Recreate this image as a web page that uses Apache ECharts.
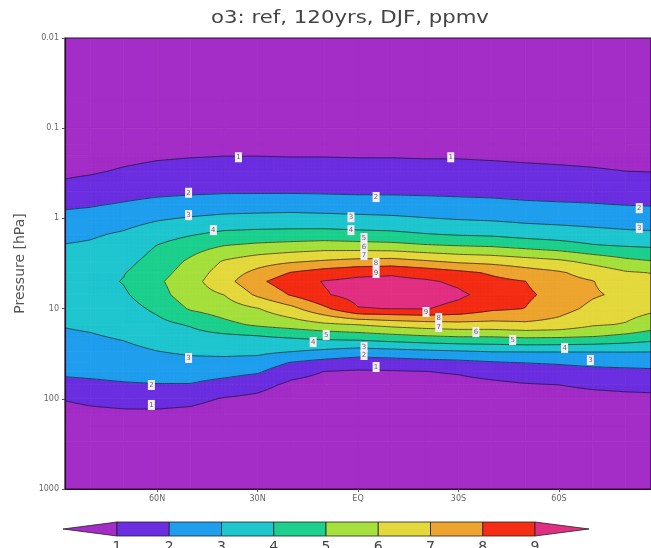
<!DOCTYPE html>
<html><head><meta charset="utf-8">
<script src="https://cdn.jsdelivr.net/npm/echarts@6/dist/echarts.min.js"></script>
<style>html,body{margin:0;padding:0;background:#fff}#c{width:651px;height:548px}</style>
</head><body><div id="c"></div>
<script>
// ---- data (ozone, ppmv, DJF) ----
const latitudes = [87.5, 80, 70, 60, 50, 40, 30, 20, 10, 0, -10, -20, -30, -40, -50, -60, -70, -80, -87.5];
const pressures = [0.01, 0.05, 0.1, 0.15, 0.2, 0.3, 0.4, 0.5, 0.7, 1, 1.5, 2, 3, 4, 5, 7, 10, 15, 20, 30, 40, 50, 70, 100, 150, 200, 300, 1000];
// one column per latitude, values from top (0.01 hPa) to bottom (1000 hPa)
const o3_87N = [0.2,0.2,0.2,0.28,0.52,0.82,1.08,1.37,1.83,2.27,2.77,3.04,3.18,3.29,3.37,3.31,3.19,3.05,2.88,2.56,2.34,2.16,1.75,1.05,0.63,0.35,0.2,0.2];
const o3_80N = [0.2,0.2,0.2,0.36,0.6,0.9,1.2,1.47,1.91,2.35,2.88,3.12,3.35,3.52,3.65,3.64,3.40,3.14,2.94,2.61,2.38,2.19,1.83,1.22,0.73,0.45,0.2,0.2];
const o3_70N = [0.2,0.2,0.2,0.52,0.76,1.09,1.41,1.66,2.08,2.6,3.12,3.37,3.71,3.95,4.05,3.87,3.61,3.32,3.11,2.76,2.49,2.27,1.92,1.33,0.81,0.53,0.2,0.2];
const o3_60N = [0.2,0.2,0.2,0.64,0.88,1.24,1.55,1.78,2.27,2.89,3.56,4.02,4.37,4.62,4.82,4.61,4.19,3.73,3.42,2.98,2.64,2.37,1.96,1.35,0.81,0.53,0.2,0.2];
const o3_50N = [0.2,0.2,0.2,0.7,0.94,1.32,1.62,1.84,2.4,3.08,3.92,4.54,5.18,5.44,5.65,5.57,5.11,4.09,3.67,3.14,2.75,2.44,1.95,1.25,0.73,0.45,0.2,0.2];
const o3_40N = [0.2,0.2,0.2,0.74,0.98,1.37,1.67,1.89,2.5,3.23,4.23,4.99,6.09,6.46,6.63,6.01,5.49,4.73,3.84,3.21,2.73,2.33,1.65,0.93,0.53,0.25,0.2,0.2];
const o3_30N = [0.2,0.2,0.2,0.74,0.98,1.37,1.67,1.89,2.53,3.29,4.32,5.2,6.57,7.27,7.77,7.18,5.96,5.17,4.0,3.21,2.61,2.12,1.31,0.78,0.38,0.2,0.2,0.2];
const o3_20N = [0.2,0.2,0.2,0.72,0.96,1.35,1.66,1.89,2.56,3.33,4.35,5.35,6.88,8.04,8.6,8.08,6.71,5.48,4.17,3.01,1.93,1.35,0.8,0.45,0.2,0.2,0.2,0.2];
const o3_10N = [0.2,0.2,0.2,0.72,0.96,1.34,1.64,1.87,2.5,3.29,4.38,5.48,7.12,8.48,9.05,8.92,7.8,5.83,4.4,2.78,1.62,0.98,0.65,0.3,0.2,0.2,0.2,0.2];
const o3_EQ  = [0.2,0.2,0.2,0.7,0.94,1.32,1.62,1.84,2.44,3.23,4.29,5.4,7.32,8.77,9.22,9.36,8.95,6.04,4.57,2.53,1.42,0.9,0.58,0.23,0.2,0.2,0.2,0.2];
const o3_10S = [0.2,0.2,0.2,0.7,0.94,1.32,1.62,1.84,2.42,3.16,4.23,5.31,7.4,8.87,9.25,9.43,9.02,6.33,4.8,2.65,1.5,0.93,0.6,0.25,0.2,0.2,0.2,0.2];
const o3_20S = [0.2,0.2,0.2,0.68,0.92,1.29,1.59,1.82,2.35,3.04,4.05,5.1,7.12,8.61,9.13,9.4,9.05,6.54,5.0,2.78,1.62,0.98,0.65,0.3,0.2,0.2,0.2,0.2];
const o3_30S = [0.2,0.2,0.2,0.68,0.92,1.28,1.58,1.79,2.29,2.93,3.91,4.98,6.83,8.25,8.84,9.15,8.75,6.66,5.14,2.9,1.71,1.09,0.7,0.35,0.2,0.2,0.2,0.2];
const o3_40S = [0.2,0.2,0.2,0.64,0.88,1.24,1.54,1.76,2.23,2.85,3.83,4.88,6.7,7.87,8.25,8.7,8.19,6.66,5.14,3.02,1.88,1.33,0.8,0.45,0.2,0.2,0.2,0.2];
const o3_50S = [0.2,0.2,0.2,0.6,0.84,1.18,1.49,1.71,2.13,2.72,3.63,4.64,6.45,7.45,8.01,8.17,7.98,6.79,5.29,3.03,2.0,1.54,0.93,0.58,0.2,0.2,0.2,0.2];
const o3_60S = [0.2,0.2,0.2,0.56,0.8,1.14,1.45,1.68,2.08,2.65,3.5,4.42,6.2,7.12,7.34,7.67,7.36,6.66,5.25,3.03,2.08,1.63,1.0,0.65,0.26,0.2,0.2,0.2];
const o3_70S = [0.2,0.2,0.2,0.52,0.76,1.08,1.4,1.64,2.04,2.58,3.34,4.08,5.73,6.62,7.04,7.11,6.77,6.13,5.11,3.03,2.21,1.74,1.14,0.73,0.33,0.2,0.2,0.2];
const o3_80S = [0.2,0.2,0.2,0.46,0.7,1.0,1.33,1.57,1.97,2.5,3.22,3.93,5.26,6.11,6.39,6.8,6.42,5.93,4.82,3.03,2.27,1.79,1.22,0.78,0.38,0.2,0.2,0.2];
const o3_87S = [0.2,0.2,0.2,0.44,0.68,0.98,1.3,1.54,1.94,2.46,3.16,3.86,5.05,5.98,6.19,6.47,6.21,5.48,4.55,3.02,2.31,1.83,1.26,0.8,0.41,0.2,0.2,0.2];

const contourLevels = [1, 2, 3, 4, 5, 6, 7, 8, 9];
const bandColors = ['#A42CC7','#6B2EE0','#1F9EEE','#1FC6D0','#1DD08E','#A5E03C','#E4D93C','#EDA52F','#F42D14','#E22F82'];
const xTickValues = [60, 30, 0, -30, -60];
const xTickLabels = ['60N', '30N', 'EQ', '30S', '60S'];
const yTickValues = [0.01, 0.1, 1, 10, 100, 1000];
const yTickLabels = ['0.01', '0.1', '1', '10', '100', '1000'];
// contour labels seen on the reference: latitude, pressure, level
const labelLat = [35.7,-27.7,50.6,-5.4,50.6,2.1,43.2,2.1,-1.8,-1.8,-1.8,-5.4,-5.4,-20.3,-24.1,-24.1,-35.2,-46.2,9.5,13.4,-1.8,-1.8,-5.4,50.6,61.7,61.7,-61.7,-69.4,-84,-84];
const labelP   = [0.21,0.21,0.52,0.58,0.92,0.97,1.35,1.35,1.65,2.08,2.55,3.12,4.03,10.9,12.7,16,18.2,22.3,19.6,23.5,26.7,32.7,44.4,35.3,70.3,117,27.3,37.2,0.77,1.28];
const labelVal = [1,1,2,2,3,3,4,4,5,6,7,8,9,9,8,7,6,5,5,4,3,2,1,3,2,1,4,3,2,3];

// ---- build ----
const grid = [o3_87N,o3_80N,o3_70N,o3_60N,o3_50N,o3_40N,o3_30N,o3_20N,o3_10N,o3_EQ,o3_10S,o3_20S,o3_30S,o3_40S,o3_50S,o3_60S,o3_70S,o3_80S,o3_87S];
const cells = [];
for (let i = 0; i < latitudes.length - 1; i++)
  for (let j = 0; j < pressures.length - 1; j++)
    cells.push([latitudes[i], pressures[j], i, j]);

function band(v) { if (v < contourLevels[0]) return 0; let k = 0; while (k < contourLevels.length && v >= contourLevels[k]) k++; return k; }
function clip(poly, level, keepAbove) {
  const out = [];
  for (let k = 0; k < poly.length; k++) {
    const a = poly[k], b = poly[(k + 1) % poly.length];
    const ain = keepAbove ? a[2] >= level : a[2] < level;
    const bin = keepAbove ? b[2] >= level : b[2] < level;
    if (ain) out.push(a);
    if (ain !== bin) {
      const t = (level - a[2]) / (b[2] - a[2]);
      out.push([a[0] + t * (b[0] - a[0]), a[1] + t * (b[1] - a[1]), level]);
    }
  }
  return out;
}
const f = n => n.toFixed(2);

function renderCell(params, api) {
  const i = api.value(2), j = api.value(3);
  const a = api.coord([latitudes[i], pressures[j]]);
  const b = api.coord([latitudes[i + 1], pressures[j + 1]]);
  const v00 = grid[i][j], v10 = grid[i + 1][j], v01 = grid[i][j + 1], v11 = grid[i + 1][j + 1];
  const mn = Math.min(v00, v10, v01, v11), mx = Math.max(v00, v10, v01, v11);
  const w = b[0] - a[0], h = b[1] - a[1];
  if (band(mn) === band(mx)) {
    const c = bandColors[band(mn)];
    return { type: 'rect', shape: { x: Math.min(a[0], b[0]), y: Math.min(a[1], b[1]), width: Math.abs(w), height: Math.abs(h) },
      style: { fill: c, stroke: c, lineWidth: 0.7 } };
  }
  const nx = Math.max(1, Math.ceil(Math.abs(w) / 4)), ny = Math.max(1, Math.ceil(Math.abs(h) / 3));
  const P = [];
  for (let q = 0; q <= ny; q++) {
    const t = q / ny, row = [];
    for (let r = 0; r <= nx; r++) {
      const s = r / nx;
      row.push([a[0] + s * w, a[1] + t * h, v00 * (1 - s) * (1 - t) + v10 * s * (1 - t) + v01 * (1 - s) * t + v11 * s * t]);
    }
    P.push(row);
  }
  const paths = bandColors.map(() => '');
  let lines = '';
  for (let q = 0; q < ny; q++) for (let r = 0; r < nx; r++) {
    const A = P[q][r], B = P[q][r + 1], C = P[q + 1][r + 1], D = P[q + 1][r];
    for (const tri of [[A, B, C], [A, C, D]]) {
      const tmin = Math.min(tri[0][2], tri[1][2], tri[2][2]);
      const tmax = Math.max(tri[0][2], tri[1][2], tri[2][2]);
      const k0 = band(tmin), k1 = band(tmax);
      for (let k = k0; k <= k1; k++) {
        let poly = tri;
        if (k > 0) poly = clip(poly, contourLevels[k - 1], true);
        if (k < contourLevels.length && poly.length) poly = clip(poly, contourLevels[k], false);
        if (poly.length >= 3) {
          paths[k] += 'M' + poly.map(p => f(p[0]) + ' ' + f(p[1])).join('L') + 'Z';
        }
      }
      for (const L of contourLevels) {
        if (tmin < L && tmax >= L) {
          const pts = [];
          for (let e = 0; e < 3; e++) {
            const p = tri[e], o = tri[(e + 1) % 3];
            if ((p[2] >= L) !== (o[2] >= L)) {
              const t = (L - p[2]) / (o[2] - p[2]);
              pts.push([p[0] + t * (o[0] - p[0]), p[1] + t * (o[1] - p[1])]);
            }
          }
          if (pts.length === 2) lines += 'M' + f(pts[0][0]) + ' ' + f(pts[0][1]) + 'L' + f(pts[1][0]) + ' ' + f(pts[1][1]);
        }
      }
    }
  }
  const children = [];
  paths.forEach((d, k) => {
    if (d) children.push({ type: 'path', shape: { pathData: d }, style: { fill: bandColors[k], stroke: bandColors[k], lineWidth: 0.7 }, z2: k });
  });
  if (lines) children.push({ type: 'path', shape: { pathData: lines }, style: { fill: null, stroke: 'rgba(25,20,30,0.85)', lineWidth: 0.8 }, z2: 20 });
  return { type: 'group', children };
}

// colorbar
const cbX0 = 117, cbStep = 52.25, cbY = 522, cbH = 14, cbTipL = 63, cbTipR = 589;
const cb = [];
cb.push({ type: 'polygon', shape: { points: [[cbTipL, cbY + cbH / 2], [cbX0, cbY], [cbX0, cbY + cbH]] }, style: { fill: bandColors[0], stroke: '#222', lineWidth: 0.8 } });
for (let k = 0; k < contourLevels.length - 1; k++) {
  cb.push({ type: 'rect', shape: { x: cbX0 + k * cbStep, y: cbY, width: cbStep, height: cbH }, style: { fill: bandColors[k + 1], stroke: '#222', lineWidth: 0.8 } });
}
const cbEnd = cbX0 + (contourLevels.length - 1) * cbStep;
cb.push({ type: 'polygon', shape: { points: [[cbEnd, cbY], [cbTipR, cbY + cbH / 2], [cbEnd, cbY + cbH]] }, style: { fill: bandColors[bandColors.length - 1], stroke: '#222', lineWidth: 0.8 } });
contourLevels.forEach((lv, k) => {
  cb.push({ type: 'text', x: cbX0 + k * cbStep, y: 540, style: { text: String(lv), font: '14px "DejaVu Sans"', fill: '#444', textAlign: 'center', textVerticalAlign: 'top' } });
});
cb.push({ type: 'text', x: 350, y: 19, scaleX: 1.25, style: { text: 'o3: ref, 120yrs, DJF, ppmv', font: '17px "DejaVu Sans"', fill: '#444', textAlign: 'center', textVerticalAlign: 'middle' } });

const chart = echarts.init(document.getElementById('c'), null, { renderer: 'canvas' });
chart.setOption({
  animation: false,
  textStyle: { fontFamily: 'DejaVu Sans' },
  grid: { left: 65, top: 38, width: 587, height: 451, show: true, backgroundColor: 'transparent', borderColor: '#2a1030', borderWidth: 1.2, z: 10 },
  xAxis: {
    type: 'value', min: -87.5, max: 87.5, inverse: true, z: 10,
    axisLine: { show: true, onZero: false, lineStyle: { color: '#2a1030', width: 1.2 } },
    axisTick: { show: true, length: 3, customValues: xTickValues, lineStyle: { color: '#555' } },
    axisLabel: { customValues: xTickValues, formatter: v => xTickLabels[xTickValues.indexOf(v)] || '', fontSize: 8, color: '#666', margin: 6 },
    splitLine: { show: false }
  },
  yAxis: {
    type: 'log', logBase: 10, min: 0.01, max: 1000, inverse: true, z: 10,
    name: 'Pressure [hPa]', nameLocation: 'middle', nameGap: 34,
    nameTextStyle: { fontSize: 14, color: '#555', fontFamily: 'DejaVu Sans' },
    axisLine: { show: true, onZero: false, lineStyle: { color: '#2a1030', width: 1.2 } },
    axisTick: { show: true, length: 3, customValues: yTickValues, lineStyle: { color: '#555' } },
    axisLabel: { customValues: yTickValues, formatter: v => { const k = yTickValues.findIndex(t => Math.abs(Math.log10(t) - Math.log10(v)) < 1e-6); return k >= 0 ? yTickLabels[k] : ''; }, fontSize: 8, color: '#666', margin: 6 },
    splitLine: { show: false }
  },
  series: [
    { type: 'custom', data: cells, encode: { x: 0, y: 1 }, renderItem: renderCell, clip: true, progressive: 0, silent: true, z: 2 },
    { type: 'scatter', data: labelLat.map((la, k) => [la, labelP[k], labelVal[k]]), symbol: 'rect', symbolSize: [7, 10], z: 5,
      itemStyle: { color: '#f3eef5', opacity: 1 },
      label: { show: true, position: 'inside', formatter: p => String(p.value[2]), fontSize: 7, color: '#666' }, silent: true }
  ],
  graphic: { elements: cb }
});
</script></body></html>
